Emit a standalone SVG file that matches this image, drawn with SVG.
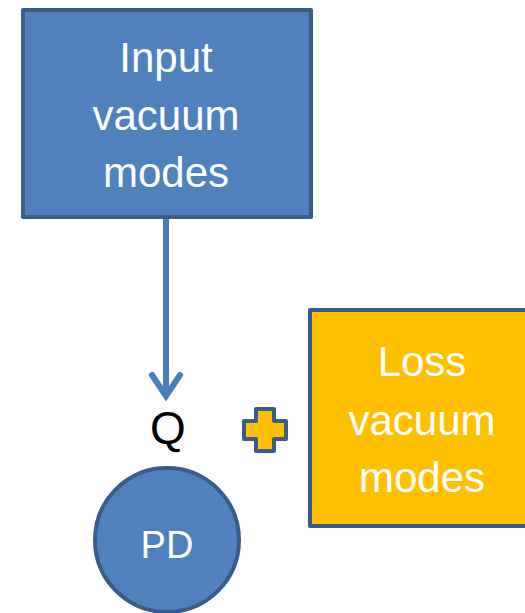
<svg xmlns="http://www.w3.org/2000/svg" width="525" height="613" viewBox="0 0 525 613">
<style>
.box{stroke:#385D8A;stroke-width:4;stroke-linejoin:round}
.blue{fill:#4F81BD}
.gold{fill:#FFC000}
.lbl{font-family:"Liberation Sans",Arial,sans-serif;fill:#fff;text-anchor:middle}
</style>
<rect width="525" height="613" fill="#fff"/>
<g id="connectors">
<line x1="166" y1="219" x2="166" y2="394" stroke="#4A7EBB" stroke-width="6"/>
<polyline points="152,375 166,396 180,375" fill="none" stroke="#4A7EBB" stroke-width="6" stroke-linecap="round" stroke-linejoin="miter"/>
</g>
<g id="input">
<rect class="box blue" x="23" y="10" width="288" height="207"/>
<text class="lbl" x="166" y="72" font-size="42">Input</text>
<text class="lbl" x="166" y="130" font-size="42">vacuum</text>
<text class="lbl" x="166" y="187" font-size="42">modes</text>
</g>
<g id="loss">
<rect class="box gold" x="310" y="310" width="225" height="216"/>
<text class="lbl" x="422" y="376" font-size="42">Loss</text>
<text class="lbl" x="422" y="435" font-size="42">vacuum</text>
<text class="lbl" x="422" y="492" font-size="42">modes</text>
</g>
<g id="q">
<text x="168" y="444" font-family="'Liberation Sans',Arial,sans-serif" font-size="46" text-anchor="middle" fill="#000">Q</text>
</g>
<g id="plus">
<path class="box gold" d="M256,409 H274 V421 H286 V439 H274 V451 H256 V439 H244 V421 H256 Z"/>
</g>
<g id="pd">
<circle class="box blue" cx="167" cy="540" r="72"/>
<text class="lbl" x="167" y="558" font-size="38">PD</text>
</g>
</svg>
